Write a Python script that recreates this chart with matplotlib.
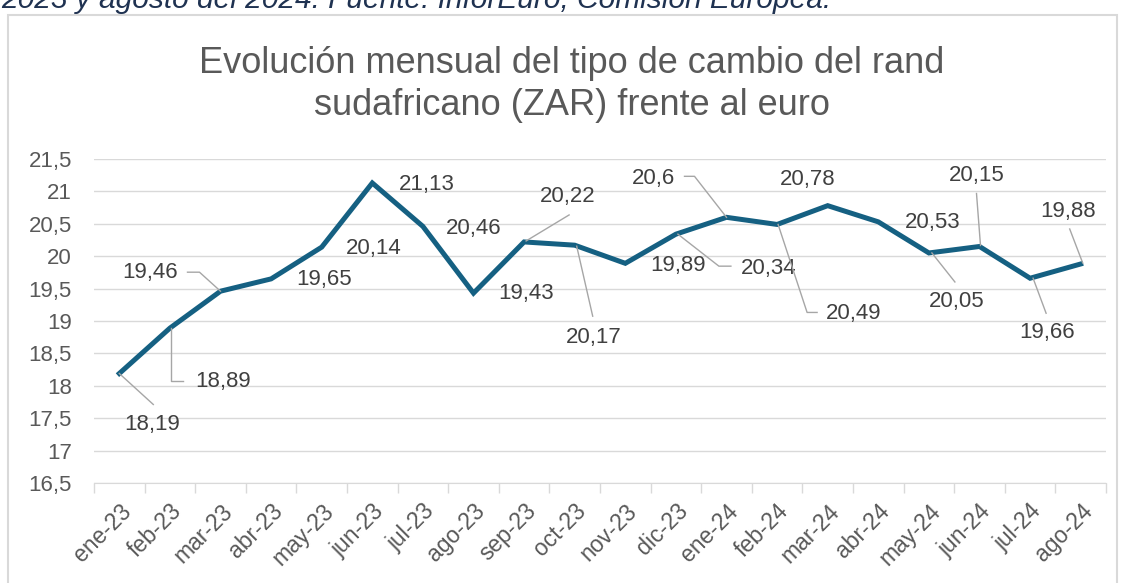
import numpy as np
import matplotlib.pyplot as plt
import matplotlib.transforms as mtransforms
from matplotlib.patches import Rectangle

plt.rcParams['font.family'] = ['Liberation Sans', 'DejaVu Sans']

meses = ["ene-23", "feb-23", "mar-23", "abr-23", "may-23", "jun-23", "jul-23",
         "ago-23", "sep-23", "oct-23", "nov-23", "dic-23", "ene-24", "feb-24",
         "mar-24", "abr-24", "may-24", "jun-24", "jul-24", "ago-24"]
tipo_cambio = [18.19, 18.89, 19.46, 19.65, 20.14, 21.13, 20.46, 19.43, 20.22, 20.17,
               19.89, 20.34, 20.60, 20.49, 20.78, 20.53, 20.05, 20.15, 19.66, 19.88]
yticks = np.arange(16.5, 21.51, 0.5)

# desplazamiento de cada etiqueta respecto a su punto (px, y hacia abajo)
desp_etiqueta = [(33, 51), (53, 53), (-70, -19), (53, 1), (52, 1), (55, 2), (51, 2),
                 (53, 0), (44, -45), (19, 92), (53, 2), (93, 34), (-73, -39),
                 (77, 89), (-20, -26), (54, 1), (28, 49), (-3, -71), (17, 54), (-13, -52)]
# lineas guia (px desde el punto), None = sin guia
guias = [[(0, 0), (34, 31)],
         [(1.5, 0), (1.5, 53), (13.5, 53)],
         [(-33, -19), (-21, -19), (0, 0)],
         None, None, None, None, None,
         [(2, -1), (45, -27)],
         [(2, 1), (18, 71)],
         None,
         [(2, 0), (43, 32), (55, 32)],
         [(-42, -41), (-32, -41), (0, 0)],
         [(1, 0), (30, 88), (40, 88)],
         None, None,
         [(3, 0), (26, 29)],
         [(1, -1), (-3, -53)],
         [(3, 0), (16, 35)],
         [(-11, -35), (2, -1)]]

W, H = 1121, 583
fig = plt.figure(figsize=(W / 100, H / 100), dpi=100)
ax = fig.add_axes([94 / W, 100 / H, 1012 / W, 324 / H])

x = np.arange(len(meses))
ax.plot(x, tipo_cambio, color="#156082", lw=3.6, solid_joinstyle="miter", zorder=3)

ax.set_xlim(-0.5, len(meses) - 0.5)
ax.set_ylim(16.5, 21.5)
ax.set_yticks(yticks)
ax.set_yticklabels([f"{v:g}".replace(".", ",") for v in yticks])
ax.set_xticks(x)
ax.set_xticklabels(meses, rotation=45, ha="right", rotation_mode="anchor")
ax.set_xticks(np.arange(-0.5, len(meses)), minor=True)
ax.tick_params(axis="x", which="major", length=0, pad=12, labelsize=16.5, labelcolor="#595959")
ax.tick_params(axis="x", which="minor", length=7, width=1, color="#d9d9d9")
ax.tick_params(axis="y", length=0, pad=16, labelsize=16, labelcolor="#595959")
ax.yaxis.grid(True, color="#d9d9d9", lw=1)
ax.set_axisbelow(True)
for lado in ["top", "right", "left"]:
    ax.spines[lado].set_visible(False)
ax.spines["bottom"].set_color("#d9d9d9")

# etiquetas de datos con lineas guia
ident = mtransforms.IdentityTransform()
for i, v in enumerate(tipo_cambio):
    px, py = ax.transData.transform((i, v))
    dx, dy = desp_etiqueta[i]
    ax.annotate(f"{v:g}".replace(".", ","), (i, v), xytext=(dx, -dy),
                textcoords="offset pixels", ha="center", va="center",
                fontsize=16, color="#404040", zorder=4)
    if guias[i] is not None:
        xs = [px + a for a, b in guias[i]]
        ys = [py - b for a, b in guias[i]]
        fig.add_artist(plt.Line2D(xs, ys, transform=ident, color="#a6a6a6", lw=1, zorder=2))

fig.text(571.5 / W, 1 - 115 / H,
         "Evolución mensual del tipo de cambio del rand\nsudafricano (ZAR) frente al euro",
         ha="center", va="baseline", multialignment="center", fontsize=26,
         color="#595959", linespacing=1.25)

fig.text(1 / W, 1 - 8 / H, "2023 y agosto del 2024. Fuente: InforEuro, Comisión Europea.",
         style="italic", fontsize=21.5, color="#1f3251", va="baseline")

fig.add_artist(Rectangle((8 / W, -0.05), 1109 / W, (H - 15) / H + 0.05,
                         transform=fig.transFigure, fill=False, ec="#d9d9d9", lw=1.5))

fig.savefig("out.png", dpi=100)
